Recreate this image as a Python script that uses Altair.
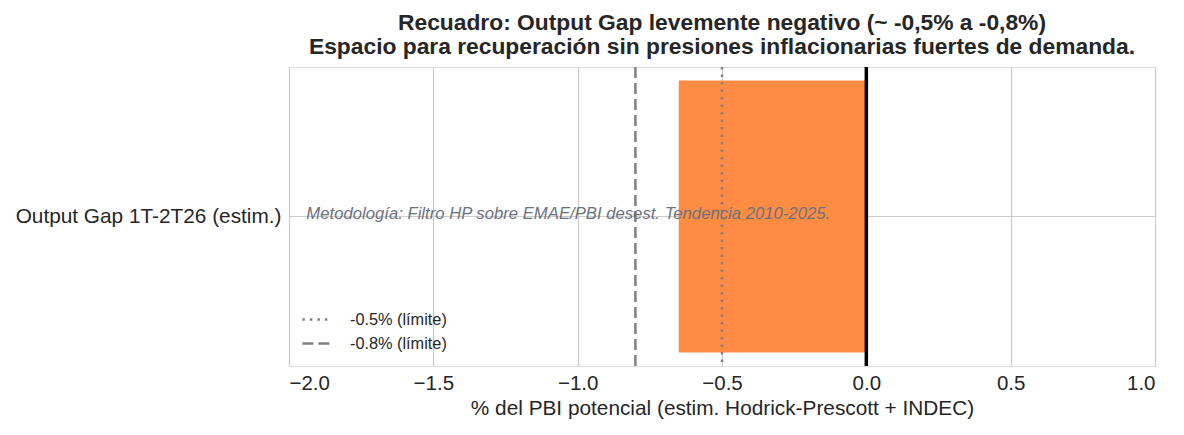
import altair as alt
import pandas as pd

categories = ["Output Gap 1T-2T26 (estim.)"]
gap_values = [-0.65]
ref_values = [-0.5, -0.8]
ref_labels = ["-0.5% (límite)", "-0.8% (límite)"]
zero_line = [0.0]
note_text = ["Metodología: Filtro HP sobre EMAE/PBI desest. Tendencia 2010-2025."]
note_x = [-1.94]
x_ticks = [-2.0, -1.5, -1.0, -0.5, 0.0, 0.5, 1.0]

FONT = "Liberation Sans"
TXT = "#262626"

bars_df = pd.DataFrame({"cat": categories, "val": gap_values})
refs_df = pd.DataFrame({"x": ref_values, "label": ref_labels})
zero_df = pd.DataFrame({"x": zero_line})
note_df = pd.DataFrame({"cat": categories, "x": note_x, "text": note_text})

x_scale = alt.Scale(domain=[-2.0, 1.0], nice=False, zero=False)
y_scale = alt.Scale(domain=categories, paddingInner=0, paddingOuter=0.05)

x_axis = alt.Axis(
    values=x_ticks, format=".1f", grid=True, gridColor="#cccccc", gridWidth=1.2,
    ticks=False, domain=False, labelFontSize=20.5, labelColor=TXT, labelFont=FONT,
    labelPadding=7, title="% del PBI potencial (estim. Hodrick-Prescott + INDEC)",
    titleFontSize=20.8, titleFont=FONT, titleColor=TXT, titleFontWeight="normal",
    titlePadding=5,
)
y_axis = alt.Axis(
    title=None, grid=True, gridColor="#cccccc", gridWidth=1.2, bandPosition=0.5,
    ticks=False, domain=False, labelFontSize=20.8, labelColor=TXT, labelFont=FONT,
    labelPadding=8, labelLimit=400,
)

bars = alt.Chart(bars_df).mark_bar(color="#FF8C42").encode(
    x=alt.X("val:Q", scale=x_scale, axis=x_axis),
    y=alt.Y("cat:N", scale=y_scale, axis=y_axis, sort=None),
)

refs = alt.Chart(refs_df).mark_rule(color="#808080", strokeWidth=2.5).encode(
    x=alt.X("x:Q", scale=x_scale),
    strokeDash=alt.StrokeDash(
        "label:N",
        scale=alt.Scale(domain=ref_labels, range=[[2.5, 5], [11, 5]]),
        legend=alt.Legend(
            title=None, orient="none", legendX=12, legendY=237,
            symbolType="stroke", symbolStrokeColor="#808080", symbolStrokeWidth=2.5,
            symbolSize=800, labelFontSize=16.3, labelFont=FONT, labelColor=TXT,
            rowPadding=-7, labelOffset=18,
        ),
    ),
)

zero = alt.Chart(zero_df).mark_rule(color="black", strokeWidth=3.5).encode(
    x=alt.X("x:Q", scale=x_scale)
)

note = alt.Chart(note_df).mark_text(
    align="left", baseline="middle", dy=-3, fontStyle="italic", fontSize=16.7,
    font=FONT, color="#6b7280",
).encode(
    x=alt.X("x:Q", scale=x_scale),
    y=alt.Y("cat:N", scale=y_scale),
    text="text:N",
)

chart = alt.layer(bars, refs, zero, note).properties(
    width=866, height=299,
    autosize=alt.AutoSizeParams(type="none"),
    padding={"left": 281, "top": 59, "right": 21, "bottom": 61},
    title=alt.TitleParams(
        text=["Recuadro: Output Gap levemente negativo (~ -0,5% a -0,8%)",
              "Espacio para recuperación sin presiones inflacionarias fuertes de demanda."],
        fontSize=22.8, font=FONT, fontWeight="bold", color=TXT, anchor="middle",
        offset=6, lineHeight=24,
    ),
).configure_view(stroke="#cccccc", strokeWidth=1.5).configure(background="white")

chart.save("out.html", embed_options={"renderer": "svg", "actions": False})
